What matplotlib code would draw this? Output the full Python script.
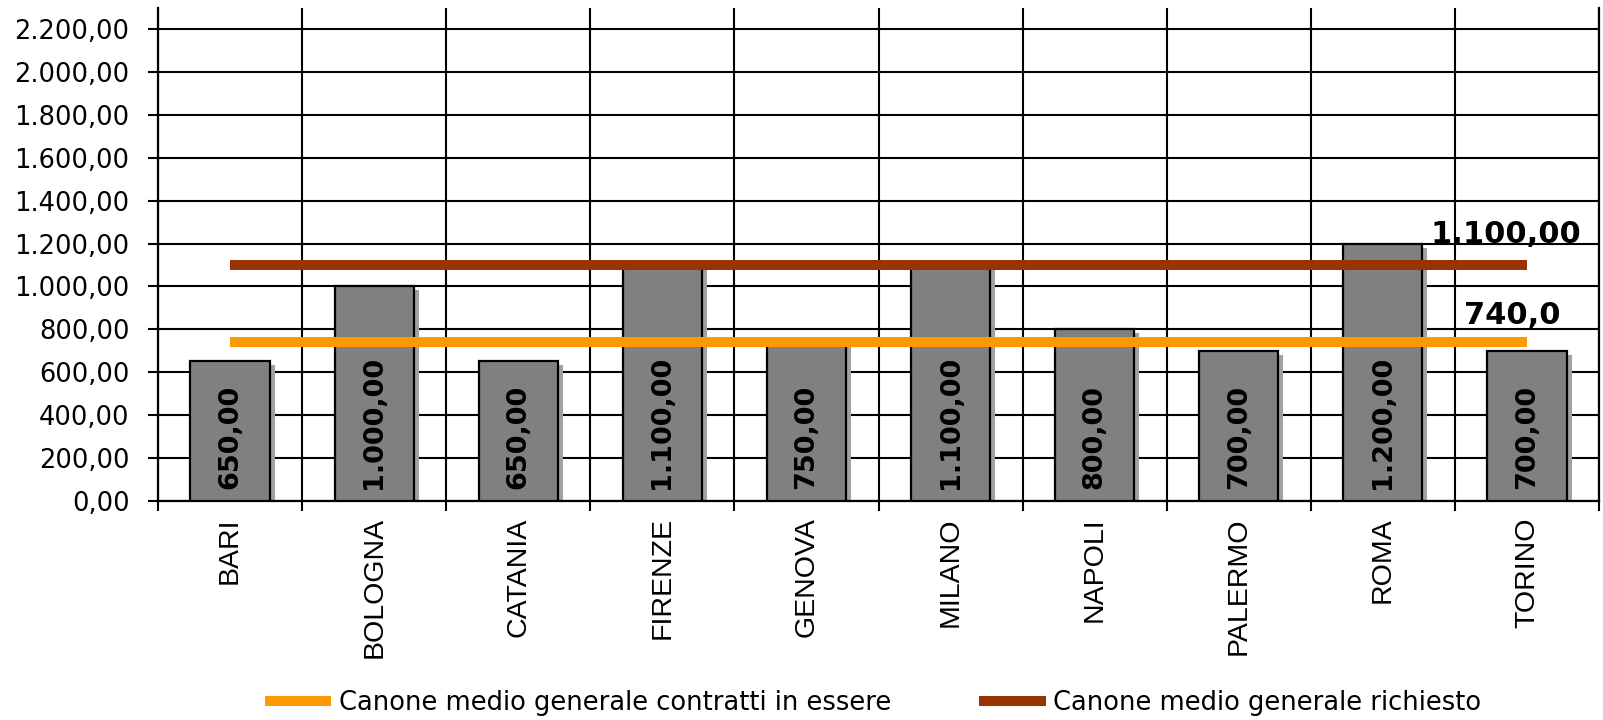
import matplotlib
matplotlib.use("Agg")
import matplotlib.pyplot as plt
import matplotlib.transforms as mtransforms
from matplotlib.ticker import FuncFormatter, FixedLocator
import numpy as np

# Average rent per city (EUR)
cities = ["BARI", "BOLOGNA", "CATANIA", "FIRENZE", "GENOVA",
          "MILANO", "NAPOLI", "PALERMO", "ROMA", "TORINO"]
canone = [650, 1000, 650, 1100, 750, 1100, 800, 700, 1200, 700]

# Overall averages
media_contratti = 740.0
media_richiesto = 1100.0
label_contratti = "740,0"
label_richiesto = "1.100,00"
legend_contratti = "Canone medio generale contratti in essere"
legend_richiesto = "Canone medio generale richiesto"


def it_number(v, decimals=2):
    s = f"{v:,.{decimals}f}"
    return s.replace(",", "X").replace(".", ",").replace("X", ".")


fig = plt.figure(figsize=(16.03, 7.2), dpi=100)
ax = fig.add_axes([158 / 1603, 1 - 500.7 / 720, (1599 - 158) / 1603, (500.7 - 8) / 720])

x = np.arange(len(cities))
bar_w = 0.55

# shadow behind each bar
shadow_tr = ax.transData + mtransforms.ScaledTranslation(5 / 100, -4 / 100, fig.dpi_scale_trans)
ax.bar(x, canone, width=bar_w, color="#a0a0a0", edgecolor="none",
       transform=shadow_tr, zorder=2)
bars = ax.bar(x, canone, width=bar_w, color="#808080", edgecolor="black",
              linewidth=1.6, zorder=3)

for xi, v in zip(x, canone):
    ax.annotate(it_number(v), xy=(xi, 0), xytext=(0, 12), textcoords="offset pixels",
                rotation=90, ha="center", va="bottom", fontsize=19.5,
                fontweight="bold", color="black", zorder=6)

# average lines
line_c, = ax.plot(x, [media_contratti] * len(x), color="#ff9900", linewidth=7.2,
                  solid_capstyle="butt", zorder=4, label=legend_contratti)
line_r, = ax.plot(x, [media_richiesto] * len(x), color="#993300", linewidth=7.2,
                  solid_capstyle="butt", zorder=4, label=legend_richiesto)

ax.annotate(label_richiesto, xy=(x[-1], media_richiesto), xytext=(-21, 22),
            textcoords="offset pixels", ha="center", va="baseline",
            fontsize=22, fontweight="bold", color="black", zorder=2.5)
ax.annotate(label_contratti, xy=(x[-1], media_contratti), xytext=(-15, 18),
            textcoords="offset pixels", ha="center", va="baseline",
            fontsize=22, fontweight="bold", color="black", zorder=2.5)

# axes, ticks and grid
ax.set_xlim(-0.5, len(cities) - 0.5)
ax.set_ylim(0, 2300)
ax.set_yticks(np.arange(0, 2201, 200))
ax.yaxis.set_major_formatter(FuncFormatter(lambda v, p: it_number(v)))
ax.set_xticks(x)
ax.set_xticklabels(cities, rotation=90, fontsize=20.5, family="Liberation Sans",
                   ha="center", va="top")
ax.xaxis.set_minor_locator(FixedLocator(np.arange(-0.5, len(cities), 1.0)))
ax.tick_params(axis="x", which="major", length=0, pad=12)
ax.tick_params(axis="x", which="minor", length=7.5, width=1.5, direction="out", color="black")
ax.tick_params(axis="y", length=7.5, width=1.5, direction="out", labelsize=18.5, pad=13)

ax.set_axisbelow(True)
ax.grid(axis="y", which="major", color="black", linewidth=1.5, zorder=1)
ax.grid(axis="x", which="minor", color="black", linewidth=1.5, zorder=1)

ax.spines["top"].set_visible(False)
for s in ("left", "bottom", "right"):
    ax.spines[s].set_linewidth(1.6)
    ax.spines[s].set_color("black")

leg = fig.legend(handles=[line_c, line_r], loc="center", bbox_to_anchor=(873 / 1603, 1 - 703 / 720),
                 ncol=2, frameon=False, fontsize=18.5, handlelength=2.6,
                 columnspacing=3.4, handletextpad=0.3, borderpad=0.1)

fig.savefig("out.png", dpi=100)
